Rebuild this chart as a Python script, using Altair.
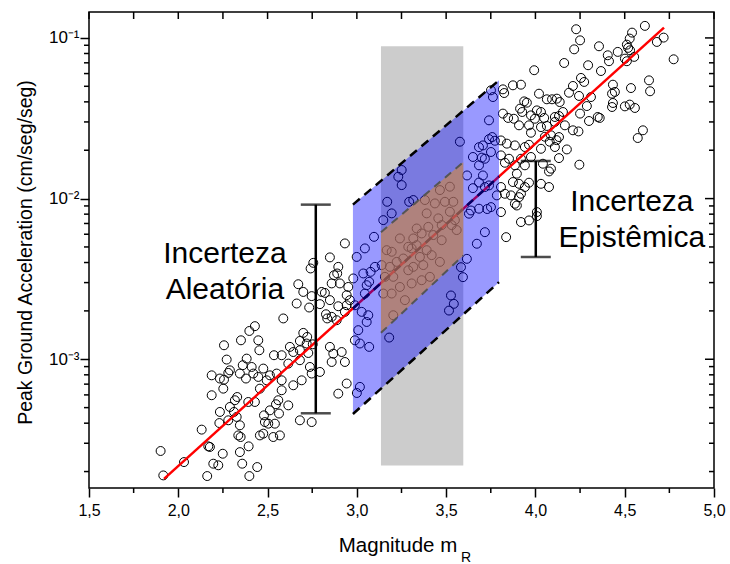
import altair as alt
import pandas as pd

# ---------------- data ----------------
# scatter: magnitude and log10(PGA)
mag = [
    1.901, 2.032, 1.916, 2.162, 2.131, 2.168, 2.177, 2.196, 2.224, 2.249,
    2.345, 2.358, 2.394, 2.442, 2.398, 2.187, 2.233, 2.230, 2.252, 2.187,
    2.233, 2.256, 2.280, 2.289, 2.256, 2.271, 2.351, 2.398, 2.429, 2.448,
    2.454, 2.361, 2.383, 2.411, 2.345, 2.379, 2.420, 2.448, 2.476, 2.495,
    2.457, 2.429, 2.392, 2.330, 2.317, 2.289, 2.312, 2.327, 2.280, 2.345,
    2.480, 2.485, 2.504, 2.457, 2.476, 2.336, 2.349, 2.536, 2.532, 2.569,
    2.541, 2.564, 2.547,
    2.933, 2.849, 2.756, 2.741, 2.896, 2.872, 2.890, 2.859, 2.905, 2.672,
    2.700, 2.747, 2.663, 2.803, 2.821, 2.849, 2.943, 2.952, 2.896, 2.733,
    2.793, 2.588, 2.827, 2.834, 2.859, 2.887, 2.933, 2.943, 2.961, 2.700,
    2.722, 2.681, 2.719, 2.753, 2.625, 2.644, 2.681, 2.728, 2.579, 2.849,
    2.868, 2.915, 2.859, 2.933, 2.513, 2.551, 2.616, 2.681, 2.737, 2.747,
    2.793, 2.579, 2.644, 2.691, 2.579, 2.560, 2.616, 2.513, 2.896, 2.943,
    2.681, 2.747,
    3.577, 3.251, 3.232, 3.251, 3.170, 3.195, 3.148, 3.293, 3.316, 3.096,
    3.045, 2.999, 2.980, 3.036, 3.077, 3.101, 3.139, 3.055, 3.069, 3.045,
    2.989, 3.027, 3.064, 3.055, 3.008, 2.989, 3.017, 3.069, 3.181, 3.017,
    3.000,
    3.465, 3.521, 3.381, 3.437, 3.493, 3.540, 3.391, 3.456, 3.521, 3.549,
    3.335, 3.400, 3.475, 3.531, 3.241, 3.316, 3.363, 3.428, 3.475, 3.559,
    3.167, 3.195, 3.288, 3.335, 3.307, 3.391, 3.353, 3.419, 3.465, 3.260,
    3.223, 3.185, 3.157, 3.204, 3.288, 3.316, 3.372, 3.409, 3.363, 3.307,
    3.241, 3.195, 3.148, 3.269, 3.204,
    3.751, 3.762, 3.740, 3.758, 3.773, 3.740, 3.706, 3.684, 3.717, 3.751,
    3.650, 3.700, 3.684, 3.617, 3.706, 3.717, 3.740, 3.684, 3.650, 3.639,
    3.628, 3.684, 3.751, 3.730, 3.717, 3.672, 3.616, 3.583, 3.594, 3.527,
    3.543, 3.516, 3.784,
    4.228, 4.250, 4.217, 4.356, 4.405, 4.461, 4.412, 4.519, 4.528, 4.541,
    4.613, 4.680, 4.718, 4.774, 4.512, 4.161, 4.295, 4.367, 3.993, 4.255,
    4.273, 4.210, 4.188, 4.244, 4.311, 4.288, 4.360, 4.300, 4.250, 4.434,
    4.445, 4.535, 4.636, 4.642, 4.429, 4.501, 4.528, 4.557, 4.602, 4.573,
    4.241, 4.210, 4.246, 3.874, 3.919, 3.818, 3.825, 4.020, 4.064, 4.093,
    4.120, 4.136, 3.937, 3.952, 3.914, 3.926, 3.818, 3.847, 3.879, 3.975,
    4.008, 4.031, 3.997, 4.049, 4.109, 4.132, 4.154, 3.908, 3.964, 4.031,
    4.064, 4.109, 4.165, 3.975, 4.087, 4.132, 3.807, 3.840, 3.885, 3.941,
    3.964, 4.031, 4.109, 4.176, 4.132, 3.975, 3.919, 3.852, 3.807, 3.829,
    3.885, 3.941, 4.042, 4.087, 4.076, 3.896, 3.874, 3.908, 3.964, 3.941,
    4.031, 4.076, 3.807, 3.829, 3.863, 3.908, 3.919, 3.885, 3.896, 4.008,
    4.008, 3.919, 3.964, 3.807, 3.836, 4.512, 4.530, 4.501, 4.553, 4.429,
    4.434, 4.349, 4.053, 4.080, 4.118,
]
log_pga = [
    -3.571, -3.640, -3.723, -3.727, -3.438, -3.542, -3.546, -3.650, -3.660, -3.588,
    -3.578, -3.650, -3.542, -3.671, -3.727, -3.224, -3.328, -3.397, -3.183, -3.100,
    -3.120, -3.127, -3.085, -3.069, -2.913, -3.002, -2.882, -2.824, -2.794, -2.882,
    -2.944, -3.037, -2.996, -3.048, -3.089, -3.120, -3.089, -3.110, -3.058, -3.131,
    -3.183, -3.266, -3.266, -3.235, -3.255, -3.297, -3.328, -3.359, -3.380, -3.411,
    -3.349, -3.391, -3.401, -3.474, -3.463, -3.474, -3.484, -2.975, -3.484, -3.474,
    -3.401, -3.338, -3.280,
    -2.279, -2.366, -2.400, -2.435, -2.425, -2.477, -2.466, -2.528, -2.528, -2.533,
    -2.581, -2.607, -2.653, -2.581, -2.587, -2.632, -2.601, -2.550, -2.670, -2.678,
    -2.657, -2.746, -2.720, -2.746, -2.736, -2.757, -2.705, -2.664, -2.632, -2.836,
    -2.861, -2.886, -2.902, -2.907, -2.923, -2.955, -2.944, -2.961, -2.975, -2.923,
    -2.965, -2.955, -3.017, -3.017, -3.100, -3.089, -3.027, -3.006, -3.048, -3.089,
    -3.079, -3.131, -3.162, -3.131, -3.193, -3.255, -3.287, -3.318, -3.214, -3.151,
    -3.380, -3.391,
    -1.646, -1.822, -1.864, -1.916, -2.020, -2.092, -2.134, -2.020, -2.009, -2.238,
    -2.310, -2.363, -2.497, -2.466, -2.456, -2.425, -2.414, -2.539, -2.518, -2.591,
    -2.664, -2.705, -2.726, -2.768, -2.819, -2.882, -2.902, -2.923, -2.865, -3.172,
    -3.210,
    -1.947, -1.926, -2.009, -2.030, -2.020, -2.020, -2.092, -2.123, -2.082, -2.134,
    -2.186, -2.176, -2.165, -2.165, -2.248, -2.248, -2.217, -2.227, -2.259, -2.196,
    -2.321, -2.331, -2.300, -2.290, -2.310, -2.321, -2.363, -2.352, -2.394, -2.373,
    -2.394, -2.425, -2.487, -2.487, -2.446, -2.425, -2.414, -2.487, -2.508, -2.528,
    -2.550, -2.591, -2.591, -2.632, -2.726,
    -1.326, -1.368, -1.513, -1.617, -1.640, -1.630, -1.669, -1.680, -1.752, -1.710,
    -1.741, -1.745, -1.793, -1.856, -1.856, -1.928, -1.918, -1.900, -1.935, -2.074,
    -2.094, -2.063, -2.053, -2.065, -2.209, -2.281, -2.375, -2.427, -2.489, -2.603,
    -2.655, -2.697, -1.980,
    -0.946, -1.015, -1.071, -1.052, -1.108, -1.087, -1.145, -1.062, -1.004, -0.967,
    -0.925, -1.025, -0.998, -1.133, -1.145, -1.156, -1.170, -1.206, -1.201, -1.249,
    -1.274, -1.299, -1.341, -1.361, -1.368, -1.424, -1.498, -1.517, -1.471, -1.291,
    -1.336, -1.312, -1.264, -1.332, -1.430, -1.426, -1.415, -1.436, -1.575, -1.623,
    -1.582, -1.575, -1.789, -1.295, -1.291, -1.320, -1.343, -1.347, -1.382, -1.382,
    -1.378, -1.399, -1.395, -1.403, -1.440, -1.461, -1.471, -1.498, -1.503, -1.482,
    -1.451, -1.461, -1.503, -1.498, -1.492, -1.486, -1.461, -1.544, -1.544, -1.555,
    -1.548, -1.523, -1.544, -1.590, -1.606, -1.617, -1.638, -1.658, -1.669, -1.679,
    -1.665, -1.690, -1.679, -1.694, -1.748, -1.741, -1.752, -1.752, -1.731, -1.777,
    -1.793, -1.793, -1.783, -1.814, -1.831, -1.845, -1.897, -1.908, -1.901, -1.928,
    -1.908, -1.928, -1.928, -1.970, -1.980, -1.991, -1.970, -2.032, -2.043, -2.084,
    -2.109, -2.146, -2.136, -2.084, -2.240, -1.042, -1.077, -1.129, -1.118, -1.347,
    -1.405, -1.492, -1.615, -1.646, -1.636,
]

# regression line
fit_mag = [1.92, 4.72]
fit_pga = [1.80e-4, 1.16e-1]

# grey magnitude band
band_mag = [3.135, 3.596]
band_pga = [2.18e-4, 8.87e-2]

# blue (epistemic) parallelogram
blue_mag = [2.978, 3.796]
blue_upper = [9.17e-3, 5.45e-2]
blue_lower = [4.56e-4, 3.02e-3]
blue_center = [2.07e-3, 1.374e-2]

# orange (inner) parallelogram
inner_mag = [3.135, 3.596]
inner_upper = [6.18e-3, 1.686e-2]
inner_lower = [1.46e-3, 4.43e-3]

# uncertainty bars
bar_mag = [2.770, 4.002]
bar_low = [4.61e-4, 4.33e-3]
bar_high = [9.17e-3, 1.714e-2]

# annotations
note_text = ["Incerteza", "Aleatória", "Incerteza", "Epistêmica"]
note_mag = [2.261, 2.261, 4.540, 4.540]
note_pga = [3.96e-3, 2.37e-3, 8.36e-3, 4.99e-3]

# ticks
x_major = [1.5, 2.0, 2.5, 3.0, 3.5, 4.0, 4.5, 5.0]
x_minor = [1.75, 2.25, 2.75, 3.25, 3.75, 4.25, 4.75]
y_major = [1e-3, 1e-2, 1e-1]
y_minor = [2e-4, 3e-4, 4e-4, 5e-4, 6e-4, 7e-4, 8e-4, 9e-4,
           2e-3, 3e-3, 4e-3, 5e-3, 6e-3, 7e-3, 8e-3, 9e-3,
           2e-2, 3e-2, 4e-2, 5e-2, 6e-2, 7e-2, 8e-2, 9e-2]

# ---------------- tables ----------------
W, H = 625, 476
FONT = "Liberation Sans"
MAJ, MIN, TOP = 9, 5, 7

pts = pd.DataFrame({"mag": mag, "pga": [10 ** v for v in log_pga]})
fit = pd.DataFrame({"mag": fit_mag, "pga": fit_pga})
band = pd.DataFrame({"x0": [band_mag[0]], "x1": [band_mag[1]],
                     "y0": [band_pga[0]], "y1": [band_pga[1]]})
blue = pd.DataFrame({"mag": blue_mag, "up": blue_upper, "lo": blue_lower, "c": blue_center})
inner = pd.DataFrame({"mag": inner_mag, "up": inner_upper, "lo": inner_lower})
blue_edges = pd.DataFrame({"mag": blue_mag + blue_mag,
                           "pga": blue_upper + blue_lower,
                           "edge": ["u", "u", "l", "l"]})
inner_edges = pd.DataFrame({"mag": inner_mag + inner_mag,
                            "pga": inner_upper + inner_lower,
                            "edge": ["u", "u", "l", "l"]})
bars = pd.DataFrame({"mag": bar_mag, "lo": bar_low, "hi": bar_high})
caps = pd.DataFrame({"mag": bar_mag + bar_mag, "pga": bar_low + bar_high})
notes = pd.DataFrame({"mag": note_mag, "pga": note_pga, "t": note_text})
xmin = pd.DataFrame({"v": x_minor})
xall = pd.DataFrame({"v": x_major + x_minor})
ymaj = pd.DataFrame({"v": y_major})
ymin = pd.DataFrame({"v": y_minor})

xs = alt.Scale(domain=[1.5, 5.0], nice=False, zero=False)
ys = alt.Scale(type="log", domain=[1.58e-4, 0.145], nice=False)

# other layers leave the axis unspecified so that the explicit axes of the
# first layer win when the shared axes are merged
def X(field):
    return alt.X(field, type="quantitative", scale=xs)

def Y(field):
    return alt.Y(field, type="quantitative", scale=ys)

ax_bottom = alt.Axis(values=x_major, orient="bottom", ticks=True, tickSize=MAJ,
                     tickColor="black", tickWidth=1.5, domain=False, grid=False,
                     labelExpr="replace(format(datum.value, '.1f'), '.', ',')",
                     labelFont=FONT, labelFontSize=16, labelColor="black",
                     labelPadding=5, labelFlush=False, labelOverlap=False,
                     title="Magnitude m", titleFont=FONT, titleFontSize=20.5,
                     titleFontWeight="normal", titleColor="black",
                     titleX=308.5, titleY=63, titleAlign="center",
                     titleBaseline="alphabetic")
ax_left = alt.Axis(values=y_major, orient="left", ticks=True, tickSize=MAJ,
                   tickColor="black", tickWidth=1.5, domain=False, grid=False,
                   labelExpr="datum.value < 0.005 ? '10⁻³' : (datum.value < 0.05 ? '10⁻²' : '10⁻¹')",
                   labelFont=FONT, labelFontSize=17, labelColor="black",
                   labelPadding=1, labelFlush=False, labelOverlap=False,
                   title="Peak Ground Acceleration (cm/seg/seg)", titleFont=FONT,
                   titleFontSize=19.5, titleFontWeight="normal", titleColor="black",
                   titleX=-58, titleY=240, titleAngle=270, titleAlign="center",
                   titleBaseline="alphabetic")

axes_layer = alt.Chart(pts).mark_point(opacity=0).encode(
    x=alt.X("mag", type="quantitative", scale=xs, axis=ax_bottom),
    y=alt.Y("pga", type="quantitative", scale=ys, axis=ax_left))

gray = alt.Chart(band).mark_rect(color="#cccccc").encode(
    x=X("x0"), x2="x1", y=Y("y0"), y2="y1")

points = alt.Chart(pts).mark_point(shape="circle", filled=False, color="black",
                                   size=80, strokeWidth=1, opacity=1).encode(
    x=X("mag"), y=Y("pga"))

fit_line = alt.Chart(fit).mark_line(color="#ff0000", strokeWidth=2.5).encode(
    x=X("mag"), y=Y("pga"))

center_line = alt.Chart(blue).mark_line(color="black", strokeWidth=2.5,
                                        strokeDash=[8, 6]).encode(x=X("mag"), y=Y("c"))

blue_area = alt.Chart(blue).mark_area(color="#0000ff", opacity=0.4).encode(
    x=X("mag"), y=Y("up"), y2="lo")

inner_area = alt.Chart(inner).mark_area(color="#d2873b", opacity=0.6).encode(
    x=X("mag"), y=Y("up"), y2="lo")

blue_dash = alt.Chart(blue_edges).mark_line(color="black", strokeWidth=2.5,
                                            strokeDash=[9, 6]).encode(
    x=X("mag"), y=Y("pga"), detail="edge:N")

inner_dash = alt.Chart(inner_edges).mark_line(color="#555555", strokeWidth=2,
                                              strokeDash=[8, 6]).encode(
    x=X("mag"), y=Y("pga"), detail="edge:N")

bar_rules = alt.Chart(bars).mark_rule(color="black", strokeWidth=2.5).encode(
    x=X("mag"), y=Y("lo"), y2="hi")

bar_caps = alt.Chart(caps).mark_tick(orient="horizontal", size=30, thickness=2.5,
                                     color="black").encode(x=X("mag"), y=Y("pga"))

note_marks = alt.Chart(notes).mark_text(font=FONT, fontSize=30, align="center",
                                        baseline="alphabetic", color="black").encode(
    x=X("mag"), y=Y("pga"), text="t:N")

sub_r = alt.Chart(pd.DataFrame({"t": ["R"]})).mark_text(
    font=FONT, fontSize=14, align="left", baseline="alphabetic", color="black").encode(
    x=alt.value(372), y=alt.value(550), text="t:N")

# extra tick marks (minor outward on bottom/left, inward on top/right)
def vrules(df, y0, y1):
    return alt.Chart(df).mark_rule(color="black", strokeWidth=1.5).encode(
        x=X("v"), y=alt.value(y0), y2=alt.value(y1))

def hrules(df, x0, x1):
    return alt.Chart(df).mark_rule(color="black", strokeWidth=1.5).encode(
        y=Y("v"), x=alt.value(x0), x2=alt.value(x1))

tick_layers = [
    vrules(xmin, H, H + MIN),
    vrules(xall, 0, TOP),
    hrules(ymin, -MIN, 0),
    hrules(ymaj, W - MAJ, W), hrules(ymin, W - MIN, W),
]

chart = alt.layer(
    axes_layer, gray, points, fit_line, center_line,
    blue_area, inner_area, blue_dash, inner_dash, bar_rules, bar_caps,
    note_marks, sub_r, *tick_layers,
).properties(
    width=W, height=H,
    autosize=alt.AutoSizeParams(type="none"),
    padding={"left": 89, "top": 12, "right": 16, "bottom": 76},
    background="white",
).configure_view(stroke="black", strokeWidth=1.5)

chart.save("out.html", embed_options={"renderer": "svg", "actions": False})
